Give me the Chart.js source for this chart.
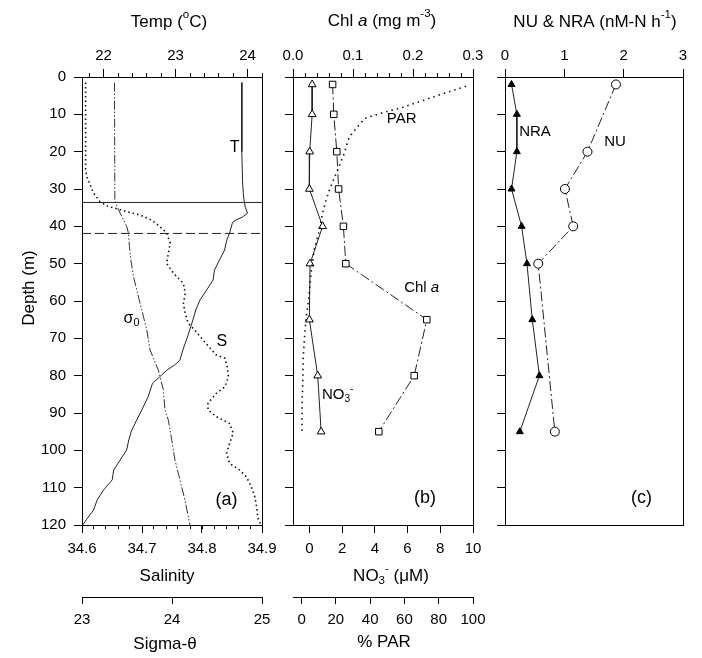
<!DOCTYPE html>
<html>
<head>
<meta charset="utf-8">
<script src="https://cdn.jsdelivr.net/npm/chart.js@4.4.1/dist/chart.umd.min.js"></script>
<style>
  body { margin: 0; background: #fff; }
  #wrap { position: relative; width: 702px; height: 658px; }
  #wrap canvas { position: absolute; left: 0; top: 0; }
</style>
</head>
<body>
<div id="wrap">
  <canvas id="panelA" width="702" height="658"></canvas>
  <canvas id="panelB" width="702" height="658"></canvas>
  <canvas id="panelC" width="702" height="658"></canvas>
</div>
<script>
// CTD cast: temperature, salinity and sigma-theta against depth
const tempDepth = [1.5, 10, 20, 28, 31, 33, 35, 36.5, 37.5, 38.3, 39, 41.8, 43.7, 46.4, 49, 51.7, 54.4, 57.1, 59.7, 62.4, 65.1, 69.9, 72.6, 75.8, 77.1, 78.5, 80.3, 82, 85.6, 89.2, 91.9, 94.6, 97.2, 99.9, 102.6, 105.3, 107.9, 110.6, 113.3, 116, 118.6, 120];
const temp = [23.92, 23.92, 23.92, 23.93, 23.94, 23.95, 23.97, 24.0, 23.93, 23.84, 23.79, 23.75, 23.71, 23.68, 23.61, 23.54, 23.52, 23.43, 23.34, 23.28, 23.24, 23.16, 23.11, 23.06, 22.99, 22.88, 22.78, 22.68, 22.62, 22.53, 22.46, 22.39, 22.35, 22.32, 22.23, 22.14, 22.12, 22.0, 21.91, 21.86, 21.76, 21.71];

const salDepth = [1.5, 25, 26.7, 29.4, 31, 33.4, 34.7, 35.4, 36.1, 37, 38.3, 40.1, 41.8, 44.5, 47.2, 49.9, 52.5, 53.5, 55.3, 58, 60.6, 63.3, 66, 67.8, 70.5, 73.1, 74.5, 75.3, 77.6, 80.3, 83, 84.7, 87.4, 89.2, 91, 92.8, 95.4, 98.1, 100.8, 103.5, 105.3, 107.1, 109.7, 112.4, 115.1, 118, 120];
const salinity = [34.606, 34.606, 34.608, 34.615, 34.619, 34.630, 34.644, 34.661, 34.675, 34.697, 34.716, 34.730, 34.741, 34.747, 34.744, 34.741, 34.752, 34.758, 34.769, 34.772, 34.769, 34.772, 34.777, 34.788, 34.802, 34.816, 34.824, 34.838, 34.842, 34.844, 34.838, 34.824, 34.810, 34.810, 34.824, 34.846, 34.852, 34.846, 34.841, 34.846, 34.863, 34.874, 34.882, 34.888, 34.891, 34.893, 34.898];

const sigmaDepth = [1.5, 33, 34.7, 37.4, 40.1, 41.8, 45.4, 49, 53.5, 57.1, 62.4, 67.8, 73.1, 78.5, 80.3, 83.8, 89.2, 91.9, 97.2, 102.6, 108, 113.3, 120];
const sigmaTheta = [23.361, 23.365, 23.388, 23.443, 23.498, 23.516, 23.527, 23.543, 23.572, 23.609, 23.664, 23.72, 23.756, 23.848, 23.867, 23.904, 23.922, 23.959, 23.997, 24.033, 24.089, 24.144, 24.2];

// mixed layer (solid) and top of thermocline (dashed)
const layerDepths = [33.6, 41.9];

// light profile
const parDepth = [2.5, 4.6, 6.6, 8.1, 9.7, 11.1, 13.6, 16, 18.7, 20.4, 24.9, 30.3, 33, 36.5, 41.9, 46, 52.6, 59.7, 65.1, 70.5, 75.8, 82, 87.4, 95];
const parPct = [96, 81.5, 68.8, 59.1, 46.4, 36.7, 32.2, 27.9, 26, 25, 21, 16.2, 14.3, 12.3, 9.9, 7.5, 5.5, 4.1, 2.5, 1.6, 0.9, 0.7, 0.3, 0.2];

// bottle samples
const bottleDepth = [2, 10, 20, 30, 40, 50, 65, 80, 95];
const chlA = [0.066, 0.068, 0.073, 0.076, 0.084, 0.088, 0.223, 0.202, 0.143];
const nitrate = [0.17, 0.17, 0.02, 0.0, 0.81, 0.04, 0.0, 0.51, 0.72];
const nra = [0.11, 0.20, 0.20, 0.11, 0.28, 0.37, 0.46, 0.58, 0.25];
const nuDepth = [2, 20, 30, 40, 50, 95];
const nu = [1.87, 1.39, 1.01, 1.15, 0.56, 0.84];

const FONT = '"Liberation Sans", Arial, Helvetica, sans-serif';
Chart.defaults.font.family = FONT;
Chart.defaults.font.size = 15;
Chart.defaults.color = "#000";

const pts = (vals, depths) => vals.map((v, i) => ({ x: v, y: depths[i] }));

function depthAxis(width, labels) {
    return {
        type: "linear", axis: "y", position: "left", reverse: true, min: 0, max: 120,
        ticks: { stepSize: 10, display: labels, padding: 8 },
        grid: { drawOnChartArea: false, tickLength: 8, color: "#000" },
        border: { color: "#000" },
        afterFit: (s) => { s.width = width; },
    };
}

function valueAxis(position, min, max, step, height, opts = {}) {
    return {
        type: "linear", axis: "x", position, min, max, weight: opts.weight || 0,
        ticks: {
            stepSize: step, includeBounds: false, autoSkip: false, maxRotation: 0,
            padding: position === "top" ? 4 : 7,
            callback: opts.decimals ? (v) => v.toFixed(opts.decimals) : (v) => String(v),
        },
        grid: { drawOnChartArea: false, tickLength: opts.tick || 8, color: "#000" },
        border: { color: "#000" },
        afterFit: (s) => { s.height = height; s.paddingLeft = 0; s.paddingRight = 0; },
    };
}

// box round the plotting area
const framePlugin = {
    id: "frame",
    afterDraw(chart) {
        const { ctx, chartArea: a } = chart;
        ctx.save();
        ctx.strokeStyle = "#000";
        ctx.lineWidth = 1;
        ctx.strokeRect(Math.round(a.left) + 0.5, Math.round(a.top) + 0.5,
            Math.round(a.right - a.left), Math.round(a.bottom - a.top));
        ctx.restore();
    },
};

// short unlabelled ticks between the major ones
const minorTicksPlugin = {
    id: "minorTicks",
    afterDraw(chart, args, opts) {
        const { ctx } = chart;
        ctx.save();
        ctx.strokeStyle = "#000";
        ctx.lineWidth = 1;
        Object.entries(opts.steps || {}).forEach(([id, step]) => {
            const s = chart.scales[id];
            const first = Math.ceil(s.min / step - 1e-6);
            for (let i = first; i * step <= s.max + 1e-9; i++) {
                const px = Math.round(s.getPixelForValue(i * step) - 0.5) + 0.5;
                const y0 = s.position === "top" ? s.bottom : s.top;
                const dir = s.position === "top" ? -1 : 1;
                ctx.beginPath();
                ctx.moveTo(px, y0);
                ctx.lineTo(px, y0 + dir * 4);
                ctx.stroke();
            }
        });
        ctx.restore();
    },
};

// titles and labels that need italics, sub- and superscripts
const richTextPlugin = {
    id: "richText",
    afterDraw(chart, args, opts) {
        const { ctx } = chart;
        (opts.items || []).forEach((it) => {
            const size = it.size || 15;
            const x = it.xAxis ? chart.scales[it.xAxis].getPixelForValue(it.x) : it.x;
            const y = it.xAxis ? chart.scales.y.getPixelForValue(it.y) : it.y;
            const runs = it.t.map(([text, style]) => {
                const small = style === "sup" || style === "sub";
                const sz = small ? size * 0.68 : size;
                const font = (style === "i" ? "italic " : "") + sz + "px " + FONT;
                ctx.font = font;
                const dy = style === "sup" ? -size * 0.4 : style === "sub" ? size * 0.28 : 0;
                return { text, font, dy, w: ctx.measureText(text).width };
            });
            const total = runs.reduce((a, r) => a + r.w, 0);
            ctx.save();
            ctx.translate(x, y);
            if (it.rotate) ctx.rotate(-Math.PI / 2);
            ctx.fillStyle = "#000";
            ctx.textBaseline = "middle";
            ctx.textAlign = "left";
            let cx = -total / 2;
            runs.forEach((r) => {
                ctx.font = r.font;
                ctx.fillText(r.text, cx, r.dy);
                cx += r.w;
            });
            ctx.restore();
        });
    },
};

const line = (data, xAxisID, extra) => Object.assign({
    data, xAxisID, yAxisID: "y", showLine: true, borderColor: "#000",
    borderWidth: 1, pointRadius: 0, tension: 0, fill: false,
}, extra);

const common = (padding, scales, plugins) => ({
    responsive: false,
    animation: false,
    layout: { padding },
    scales,
    plugins: Object.assign({ legend: { display: false }, tooltip: { enabled: false } }, plugins),
});

// (a) temperature, salinity, sigma-theta
new Chart(document.getElementById("panelA"), {
    type: "scatter",
    data: {
        datasets: [
            line(pts(temp, tempDepth), "temp", { borderColor: "#222" }),
            line(pts(salinity, salDepth), "sal", { borderDash: [1.5, 3], borderWidth: 1.6, borderColor: "#111" }),
            line(pts(sigmaTheta, sigmaDepth), "sigma", { borderDash: [9, 2, 1.5, 2, 1.5, 2], borderColor: "#333" }),
            line(pts([34.6, 34.9], [layerDepths[0], layerDepths[0]]), "sal", { borderColor: "#222" }),
            line(pts([34.6, 34.9], [layerDepths[1], layerDepths[1]]), "sal", { borderDash: [9, 4], borderColor: "#222" }),
        ],
    },
    options: common({ left: 0, top: 0, right: 440, bottom: 0 }, {
        y: depthAxis(82, true),
        temp: valueAxis("top", 21.7, 24.2, 1, 77),
        sal: valueAxis("bottom", 34.6, 34.9, 0.1, 72, { decimals: 1 }),
        sigma: valueAxis("bottom", 23, 25, 1, 61, { weight: 1, tick: 7 }),
    }, {
        minorTicks: { steps: { temp: 0.2, sal: 0.02 } },
        richText: {
            items: [
                { t: [["Temp ("], ["o", "sup"], ["C)"]], x: 169, y: 22, size: 17 },
                { t: [["Depth (m)"]], x: 29, y: 288, size: 17, rotate: true },
                { t: [["Salinity"]], x: 167, y: 576, size: 17 },
                { t: [["Sigma-θ"]], x: 165, y: 644, size: 17 },
                { t: [["T"]], xAxis: "temp", x: 23.82, y: 19, size: 16 },
                { t: [["σ"], ["0", "sub"]], xAxis: "sigma", x: 23.55, y: 64.6, size: 16 },
                { t: [["S"]], xAxis: "sal", x: 34.833, y: 70.9, size: 16 },
                { t: [["(a)"]], xAxis: "sal", x: 34.841, y: 113.3, size: 18 },
            ],
        },
    }),
    plugins: [framePlugin, minorTicksPlugin, richTextPlugin],
});

// (b) chlorophyll, nitrate and light
new Chart(document.getElementById("panelB"), {
    type: "scatter",
    data: {
        datasets: [
            line(pts(parPct, parDepth), "par", { borderDash: [1.5, 4], borderWidth: 1.6, borderColor: "#111" }),
            line(pts(nitrate, bottleDepth), "no3", {
                borderColor: "#222", pointRadius: 4.5, pointStyle: "triangle",
                pointBackgroundColor: "#fff", pointBorderColor: "#000", pointBorderWidth: 1,
            }),
            line(pts(chlA, bottleDepth), "chl", {
                borderColor: "#222", borderDash: [10, 3, 2, 3], pointRadius: 4.6, pointStyle: "rect",
                pointBackgroundColor: "#fff", pointBorderColor: "#000", pointBorderWidth: 1,
            }),
        ],
    },
    options: common({ left: 0, top: 0, right: 229, bottom: 0 }, {
        y: depthAxis(293, false),
        chl: valueAxis("top", 0, 0.3, 0.1, 77, { decimals: 1 }),
        no3: valueAxis("bottom", -1, 10, 2, 72),
        par: valueAxis("bottom", -5, 100, 20, 61, { weight: 1, tick: 7 }),
    }, {
        minorTicks: { steps: { chl: 0.02 } },
        richText: {
            items: [
                { t: [["Chl "], ["a", "i"], [" (mg m"], ["-3", "sup"], [")"]], x: 382, y: 21, size: 17 },
                { t: [["NO"], ["3", "sub"], ["-", "sup"], [" (μM)"]], x: 391, y: 576, size: 17 },
                { t: [["% PAR"]], x: 384, y: 642, size: 17 },
                { t: [["PAR"]], xAxis: "chl", x: 0.181, y: 11.1, size: 15 },
                { t: [["Chl "], ["a", "i"]], xAxis: "chl", x: 0.2145, y: 56.6, size: 15 },
                { t: [["NO"], ["3", "sub"], ["-", "sup"]], xAxis: "no3", x: 1.73, y: 85.2, size: 15 },
                { t: [["(b)"]], xAxis: "chl", x: 0.22, y: 112.9, size: 18 },
            ],
        },
    }),
    plugins: [framePlugin, minorTicksPlugin, richTextPlugin],
});

// (c) nitrate uptake and nitrate reductase activity
new Chart(document.getElementById("panelC"), {
    type: "scatter",
    data: {
        datasets: [
            line(pts(nra, bottleDepth), "nu", {
                borderColor: "#222", pointRadius: 4, pointStyle: "triangle",
                pointBackgroundColor: "#000", pointBorderColor: "#000",
            }),
            line(pts(nu, nuDepth), "nu", {
                borderColor: "#222", borderDash: [10, 3, 2, 3], pointRadius: 4.5, pointStyle: "circle",
                pointBackgroundColor: "#fff", pointBorderColor: "#000", pointBorderWidth: 1,
            }),
        ],
    },
    options: common({ left: 0, top: 0, right: 19, bottom: 133 }, {
        y: depthAxis(505, false),
        nu: valueAxis("top", 0, 3, 1, 77),
    }, {
        richText: {
            items: [
                { t: [["NU & NRA (nM-N h"], ["-1", "sup"], [")"]], x: 595, y: 22, size: 17 },
                { t: [["NRA"]], xAxis: "nu", x: 0.506, y: 14.7, size: 15 },
                { t: [["NU"]], xAxis: "nu", x: 1.854, y: 17.3, size: 15 },
                { t: [["(c)"]], xAxis: "nu", x: 2.30, y: 112.9, size: 18 },
            ],
        },
    }),
    plugins: [framePlugin, minorTicksPlugin, richTextPlugin],
});
</script>
</body>
</html>
